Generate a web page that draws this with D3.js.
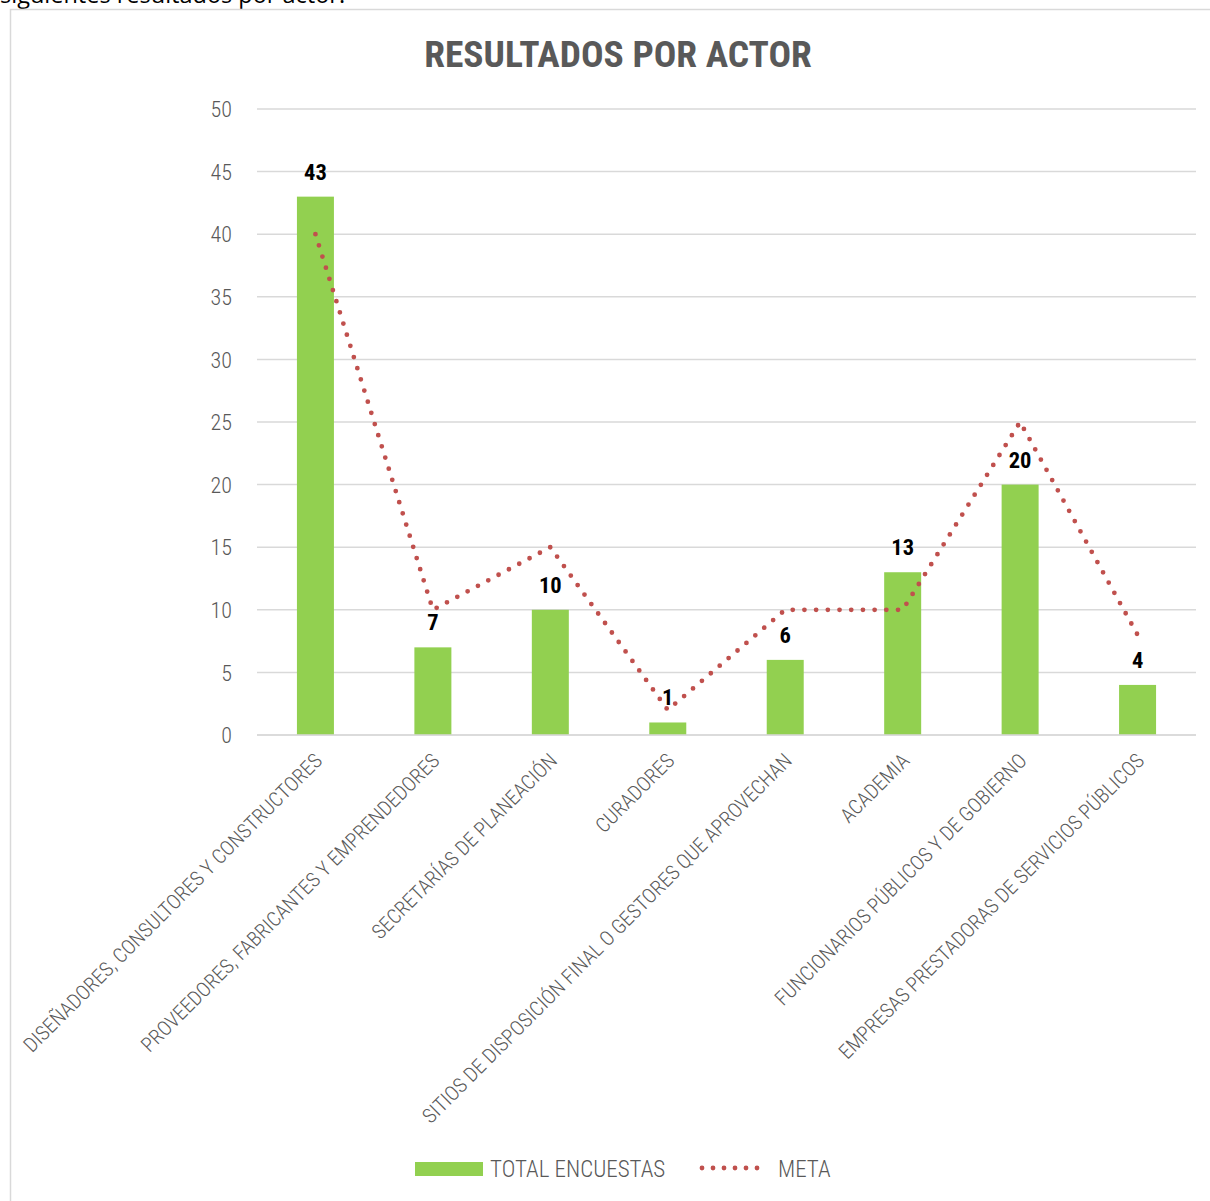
<!DOCTYPE html>
<html><head><meta charset="utf-8">
<script src="https://cdn.jsdelivr.net/npm/d3@7"></script>
<style>
body{margin:0;background:#fff;overflow:hidden}
svg{display:block}
</style></head>
<body>
<script>
const categories = ["DISEÑADORES, CONSULTORES Y CONSTRUCTORES","PROVEEDORES, FABRICANTES Y EMPRENDEDORES","SECRETARÍAS DE PLANEACIÓN","CURADORES","SITIOS DE DISPOSICIÓN FINAL O GESTORES QUE APROVECHAN","ACADEMIA","FUNCIONARIOS PÚBLICOS Y DE GOBIERNO","EMPRESAS PRESTADORAS DE SERVICIOS PÚBLICOS"];
const totalEncuestas = [43,7,10,1,6,13,20,4];
const meta = [40,10,15,2,10,10,25,8];
const yTicks = [0,5,10,15,20,25,30,35,40,45,50];

const W=1210,H=1201;
const font = "'Roboto Condensed','Liberation Sans Narrow','DejaVu Sans Condensed',Roboto,sans-serif";
const svg=d3.select("body").append("svg").attr("width",W).attr("height",H);

svg.append("text").attr("x",0).attr("y",3).attr("font-family","'Open Sans',sans-serif")
  .attr("font-size",23.5).attr("fill","#000").text("siguientes resultados por actor.");

svg.append("rect").attr("x",10.5).attr("y",9.5).attr("width",1215).attr("height",1215)
  .attr("fill","none").attr("stroke","#d9d9d9").attr("stroke-width",1.5);

svg.append("text").attr("x",618).attr("y",67).attr("text-anchor","middle")
  .attr("font-family",font).attr("font-weight","bold").attr("font-size",37.5)
  .attr("fill","#595959").text("RESULTADOS POR ACTOR");

const x=d3.scaleBand().domain(categories).range([257,1196]).paddingInner(0.685).paddingOuter(0.34);
const y=d3.scaleLinear().domain([0,50]).range([735,109]);

// gridlines
svg.append("g").selectAll("line").data(yTicks).join("line")
  .attr("x1",257).attr("x2",1196).attr("y1",d=>y(d)).attr("y2",d=>y(d))
  .attr("stroke","#d9d9d9").attr("stroke-width",1.5);

const yAxis=svg.append("g").attr("transform","translate(257,0)")
  .call(d3.axisLeft(y).tickValues(yTicks).tickSize(0).tickPadding(25));
yAxis.select(".domain").remove();
yAxis.selectAll("text").attr("font-family",font).attr("font-weight",300).attr("font-size",22).attr("fill","#595959").attr("dy","0.35em");

// bars
svg.append("g").selectAll("rect").data(totalEncuestas).join("rect")
  .attr("x",(d,i)=>x(categories[i])).attr("width",x.bandwidth())
  .attr("y",d=>y(d)).attr("height",d=>y(0)-y(d)).attr("fill","#92d050");

// meta line
const line=d3.line().x((d,i)=>x(categories[i])+x.bandwidth()/2).y(d=>y(d));
svg.append("path").datum(meta).attr("d",line).attr("fill","none")
  .attr("stroke","#c0504d").attr("stroke-width",4.8).attr("stroke-linecap","round")
  .attr("stroke-dasharray","0 11.7");

// data labels
svg.append("g").selectAll("text").data(totalEncuestas).join("text")
  .attr("x",(d,i)=>x(categories[i])+x.bandwidth()/2).attr("y",d=>y(d)-17)
  .attr("text-anchor","middle").attr("font-family",font).attr("font-weight","bold")
  .attr("font-size",22.5).attr("fill","#000").text(d=>d);

// x axis
const xAxis=svg.append("g").attr("transform","translate(0,735)")
  .call(d3.axisBottom(x).tickSize(0).tickPadding(0));
xAxis.select(".domain").attr("stroke","#d9d9d9").attr("stroke-width",1.5).attr("d","M257,0H1196");
xAxis.selectAll("text").attr("font-family",font).attr("font-weight",300).attr("font-size",20.5).attr("fill","#595959")
  .attr("text-anchor","end").attr("dy",0).attr("y",0)
  .attr("transform","translate(8,27) rotate(-45)");

// legend
const lg=svg.append("g");
lg.append("rect").attr("x",415).attr("y",1162).attr("width",68).attr("height",14).attr("fill","#92d050");
lg.append("text").attr("x",490).attr("y",1177).attr("font-family",font).attr("font-weight",300).attr("font-size",23).attr("fill","#595959").text("TOTAL ENCUESTAS");
lg.append("line").attr("x1",702).attr("x2",768).attr("y1",1168).attr("y2",1168)
  .attr("stroke","#c0504d").attr("stroke-width",4.8).attr("stroke-linecap","round").attr("stroke-dasharray","0 11");
lg.append("text").attr("x",778).attr("y",1177).attr("font-family",font).attr("font-weight",300).attr("font-size",23).attr("fill","#595959").text("META");
</script>
</body></html>
